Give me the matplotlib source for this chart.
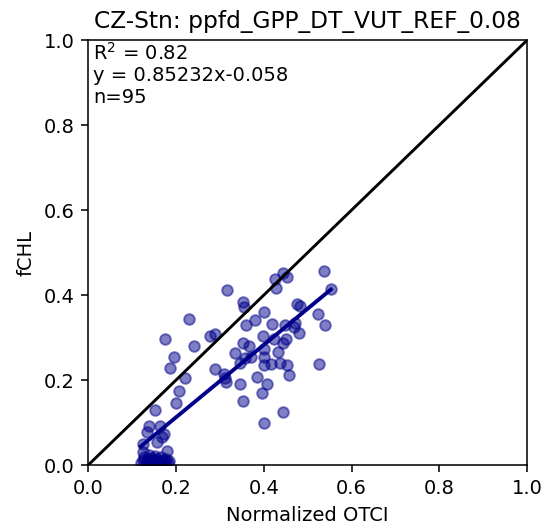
import numpy as np
import matplotlib
matplotlib.use('Agg')
import matplotlib.pyplot as plt

site = 'CZ-Stn'
variable = 'ppfd_GPP_DT_VUT_REF_0.08'

# normalized OTCI (x) and fCHL (y)
otci = [0.316, 0.352, 0.356, 0.425, 0.445, 0.454, 0.428, 0.229, 0.176, 0.241,
        0.196, 0.186, 0.278, 0.290, 0.401, 0.379, 0.360, 0.419, 0.449, 0.476,
        0.482, 0.468, 0.480, 0.472, 0.398, 0.352, 0.366, 0.423, 0.451, 0.444,
        0.400, 0.334, 0.432, 0.358, 0.371, 0.400, 0.346, 0.401, 0.417, 0.436,
        0.454, 0.289, 0.310, 0.315, 0.312, 0.385, 0.458, 0.347, 0.408, 0.397,
        0.352, 0.445, 0.401, 0.220, 0.207, 0.201, 0.153, 0.138, 0.164, 0.135,
        0.173, 0.168, 0.157, 0.125, 0.179, 0.125, 0.538, 0.553, 0.523, 0.540,
        0.527,
        0.120, 0.125, 0.128, 0.130, 0.133, 0.136, 0.138, 0.140, 0.143, 0.145,
        0.148, 0.150, 0.152, 0.155, 0.158, 0.160, 0.163, 0.165, 0.168, 0.172,
        0.175, 0.178, 0.182, 0.185]
fchl = [0.412, 0.385, 0.373, 0.437, 0.451, 0.443, 0.416, 0.344, 0.298, 0.280,
        0.254, 0.229, 0.304, 0.308, 0.360, 0.341, 0.330, 0.333, 0.330, 0.379,
        0.375, 0.324, 0.310, 0.334, 0.304, 0.288, 0.281, 0.297, 0.298, 0.287,
        0.274, 0.265, 0.267, 0.251, 0.255, 0.254, 0.240, 0.236, 0.237, 0.240,
        0.236, 0.226, 0.215, 0.196, 0.204, 0.207, 0.211, 0.191, 0.191, 0.169,
        0.151, 0.124, 0.099, 0.204, 0.174, 0.146, 0.129, 0.093, 0.091, 0.077,
        0.073, 0.067, 0.055, 0.049, 0.034, 0.032, 0.457, 0.414, 0.356, 0.330,
        0.239,
        0.005, 0.012, 0.020, 0.002, 0.008, 0.015, 0.025, 0.003, 0.010, 0.018,
        0.004, 0.012, 0.022, 0.006, 0.014, 0.002, 0.009, 0.020, 0.004, 0.012,
        0.003, 0.015, 0.006, 0.010]

# fit reported in the figure
slope = 0.85232
intercept = -0.058
r2 = 0.82
n = 95

x = np.array(otci)
y = np.array(fchl)

dpi = 140
fig = plt.figure(figsize=(544 / dpi, 528 / dpi), dpi=dpi)
ax = fig.add_axes([0.162, 0.119, 0.807, 0.805])

ax.scatter(x, y, s=30, color='darkblue', alpha=0.5)
ax.plot([0, 1], [0, 1], color='black', lw=1.5)
xf = np.array([x.min(), x.max()])
ax.plot(xf, slope * xf + intercept, color='darkblue', lw=2)

ax.text(0.012, 0.997,
        'R$^2$ = %.2f\ny = %.5fx%.3f\nn=%d' % (r2, slope, intercept, n),
        transform=ax.transAxes, va='top', ha='left', fontsize=10,
        linespacing=1.2)

ax.set_xlim(0, 1)
ax.set_ylim(0, 1)
ax.set_xlabel('Normalized OTCI')
ax.set_ylabel('fCHL')
ax.set_title(site + ': ' + variable)

fig.savefig('out.png', dpi=dpi)
